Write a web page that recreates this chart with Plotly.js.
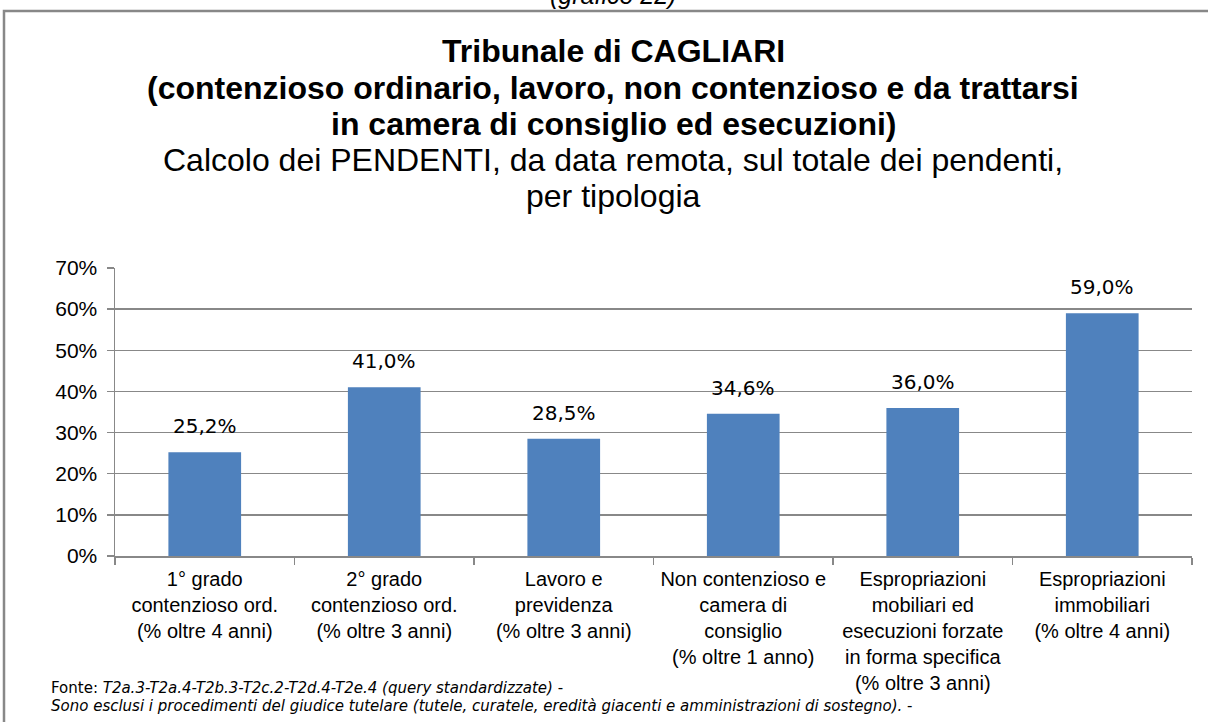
<!DOCTYPE html>
<html>
<head>
<meta charset="utf-8">
<script src="https://cdn.plot.ly/plotly-3.0.1.min.js"></script>
<style>
html,body{margin:0;padding:0;background:#fff;}
#chart{width:1208px;height:722px;}
</style>
</head>
<body>
<div id="chart"></div>
<script>
// ---- data ----
var categories = [
  "1° grado<br>contenzioso ord.<br>(% oltre 4 anni)",
  "2° grado<br>contenzioso ord.<br>(% oltre 3 anni)",
  "Lavoro e<br>previdenza<br>(% oltre 3 anni)",
  "Non contenzioso e<br>camera di<br>consiglio<br>(% oltre 1 anno)",
  "Espropriazioni<br>mobiliari ed<br>esecuzioni forzate<br>in forma specifica<br>(% oltre 3 anni)",
  "Espropriazioni<br>immobiliari<br>(% oltre 4 anni)"
];
var values = [25.2, 41.0, 28.5, 34.6, 36.0, 59.0];
var yTickVals = [0, 10, 20, 30, 40, 50, 60, 70];
var yTickText = ["0%", "10%", "20%", "30%", "40%", "50%", "60%", "70%"];

// ---- layout geometry (pixels) ----
var W = 1208, H = 722;
var L = 115, R = 1192, T = 268, B = 556;
function px(x){ return (x - L) / (R - L); }
function py(y){ return (B - y) / (B - T); }

function fmt(v){ return v.toFixed(1).replace('.', ',') + '%'; }

var labelAnns = values.map(function(v, i){
  return {
    x: categories[i], y: v, xref: 'x', yref: 'y',
    text: fmt(v), showarrow: false, yanchor: 'bottom', yshift: 12,
    font: {family: 'DejaVu Sans, Verdana, sans-serif', size: 20, color: '#000'}
  };
});

var titleFont = {family: 'Liberation Sans, Arial, sans-serif', size: 32, color: '#000'};
var cx = px(613);
var textAnns = [
  {text: '<i>(grafico 22)</i>', x: cx, y: py(-5), font: {family: 'Liberation Sans, Arial', size: 25, color: '#000'}},
  {text: '<b>Tribunale di CAGLIARI</b>', x: cx, y: py(51), font: titleFont},
  {text: '<b>(contenzioso ordinario, lavoro, non contenzioso e da trattarsi</b>', x: cx, y: py(88), font: titleFont},
  {text: '<b>in camera di consiglio ed esecuzioni)</b>', x: cx, y: py(124), font: titleFont},
  {text: 'Calcolo dei PENDENTI, da data remota, sul totale dei pendenti,', x: cx, y: py(160), font: titleFont},
  {text: 'per tipologia', x: cx, y: py(196), font: titleFont}
].map(function(a){
  return Object.assign({xref: 'paper', yref: 'paper', showarrow: false, xanchor: 'center', yanchor: 'middle'}, a);
});

var footFont = {family: 'DejaVu Sans, Verdana, sans-serif', size: 15, color: '#000'};
textAnns.push({text: 'Fonte: <i>T2a.3-T2a.4-T2b.3-T2c.2-T2d.4-T2e.4 (query standardizzate)</i> -', x: px(49), y: py(688),
  xref: 'paper', yref: 'paper', showarrow: false, xanchor: 'left', yanchor: 'middle', font: footFont});
textAnns.push({text: '<i>Sono esclusi i procedimenti del giudice tutelare (tutele, curatele, eredità giacenti e amministrazioni di sostegno).</i> -', x: px(49), y: py(706),
  xref: 'paper', yref: 'paper', showarrow: false, xanchor: 'left', yanchor: 'middle', font: footFont});

var trace = {
  type: 'bar', x: categories, y: values,
  marker: {color: '#4F81BD'},
  hoverinfo: 'x+y'
};

var layout = {
  width: W, height: H,
  margin: {l: L, r: W - R, t: T, b: H - B, pad: 0},
  paper_bgcolor: '#fff', plot_bgcolor: '#fff',
  bargap: 0.595,
  showlegend: false,
  xaxis: {
    type: 'category', tickson: 'boundaries', ticks: 'outside', ticklen: 7, tickcolor: '#888', tickwidth: 1.5,
    showline: true, linecolor: '#888', linewidth: 1.5, showgrid: false,
    tickfont: {family: 'Liberation Sans, Arial, sans-serif', size: 20, color: '#000'},
    ticklabelstandoff: 4,
    tickangle: 0, automargin: false
  },
  yaxis: {
    range: [0, 70], tickvals: yTickVals, ticktext: yTickText,
    ticks: 'outside', ticklen: 7, tickcolor: '#888', tickwidth: 1.5,
    showline: true, linecolor: '#888', linewidth: 1.5,
    showgrid: true, gridcolor: '#888', gridwidth: 1.5, zeroline: false,
    tickfont: {family: 'Liberation Sans, Arial, sans-serif', size: 21, color: '#000'},
    ticklabelstandoff: 5,
    automargin: false
  },
  shapes: [{
    type: 'rect', xref: 'paper', yref: 'paper',
    x0: px(4), x1: px(1240), y0: py(760), y1: py(11),
    line: {color: '#888', width: 2.5}, fillcolor: 'rgba(0,0,0,0)', layer: 'below'
  }],
  annotations: labelAnns.concat(textAnns)
};

Plotly.newPlot('chart', [trace], layout, {displayModeBar: false, staticPlot: true});
</script>
</body>
</html>
